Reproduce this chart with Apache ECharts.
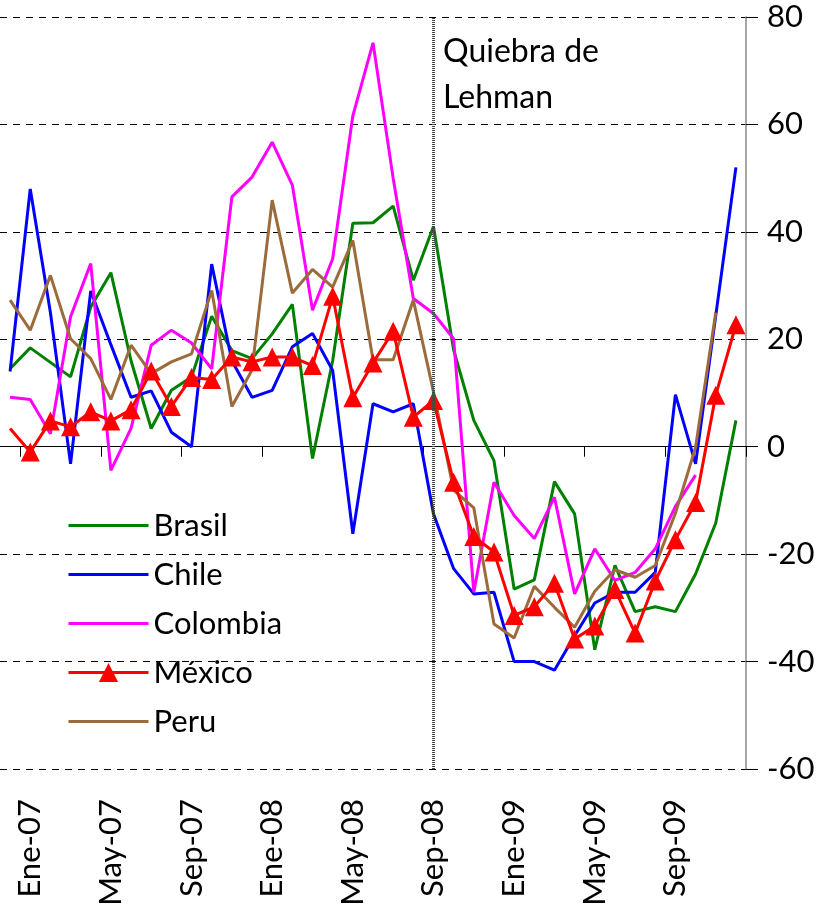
<!DOCTYPE html>
<html>
<head>
<meta charset="utf-8">
<script src="https://cdn.jsdelivr.net/npm/echarts@6/dist/echarts.min.js"></script>
<style>
  html, body { margin: 0; padding: 0; background: #fff; }
  #main { width: 829px; height: 918px; }
</style>
</head>
<body>
<div id="main"></div>
<script>
const months = [
  'Dic-06',
  'Ene-07', 'Feb-07', 'Mar-07', 'Abr-07', 'May-07', 'Jun-07', 'Jul-07', 'Ago-07', 'Sep-07', 'Oct-07', 'Nov-07', 'Dic-07',
  'Ene-08', 'Feb-08', 'Mar-08', 'Abr-08', 'May-08', 'Jun-08', 'Jul-08', 'Ago-08', 'Sep-08', 'Oct-08', 'Nov-08', 'Dic-08',
  'Ene-09', 'Feb-09', 'Mar-09', 'Abr-09', 'May-09', 'Jun-09', 'Jul-09', 'Ago-09', 'Sep-09', 'Oct-09', 'Nov-09', 'Dic-09'
];

const brasil = [14.5, 18.4, 15.7, 13, 26, 32.4, 16, 3.4, 10.5, 13, 24.3, 17.9, 16.4,
  21, 26.5, -2.2, 16, 41.6, 41.7, 44.8, 31, 41, 18, 4.9, -2.6,
  -26.5, -24.8, -6.5, -12.5, -37.8, -22.1, -30.7, -29.8, -30.7, -23.7, -14.2, 4.9];

const chile = [14, 48, 25, -3.2, 29, 19, 9.2, 10.4, 2.7, 0, 34, 16, 9.2,
  10.5, 18.6, 21.1, 14.2, -16.2, 8, 6.5, 8, -12.5, -22.7, -27.4, -27.1,
  -40, -40, -41.6, -35.2, -29.1, -27.1, -27.1, -23.4, 9.7, -3.2, 24.4, 52];

const colombia = [9.2, 8.8, 2.4, 24.2, 34.1, -4.4, 3.4, 18.9, 21.7, 19.3, 14.5, 46.5, 50.2,
  56.7, 48.7, 25.4, 35, 61.6, 75.2, 50, 27.6, 24.8, 20.1, -27.1, -6.6,
  -12.8, -17.1, -9.4, -27.4, -19, -24.9, -23.4, -19, -11.1, -5.3, null, null];

const mexico = [3.4, -1, 4.8, 3.7, 6.5, 4.8, 6.9, 14.1, 7.5, 12.9, 12.5, 16.7, 15.8,
  16.7, 16.7, 15.1, 28, 9.1, 15.6, 21.5, 5.5, 8.6, -6.6, -16.7, -19.6,
  -31.4, -29.8, -25.4, -35.8, -33.4, -26.6, -34.7, -25, -17.3, -10.4, 9.6, 22.7];

const peru = [27.3, 21.7, 31.9, 20.1, 16.4, 8.8, 18.9, 13.6, 15.8, 17.3, 29.1, 7.5, 14.3,
  45.9, 28.6, 33, 29.7, 38.4, 16.2, 16.2, 27.3, 10.2, -8.1, -11.4, -33,
  -35.6, -26, -29.9, -33.6, -26.9, -22.9, -24.3, -22.1, -12.4, -0.1, 25, null];

const legendNames = ['Brasil', 'Chile', 'Colombia', 'México', 'Peru'];
const lehmanMonth = 'Sep-08';

const FONT = 'Lato, "Noto Sans", sans-serif';
const chart = echarts.init(document.getElementById('main'));

const every4 = (index) => index % 4 === 1;

function lineSeries(name, data, color) {
  return {
    name: name,
    type: 'line',
    data: data,
    symbol: 'none',
    lineStyle: { color: color, width: 3 },
    itemStyle: { color: color },
    connectNulls: false
  };
}

// line-only series: hide the circle ECharts puts on the legend line
const legendData = legendNames.map((n) =>
  n === 'México' ? { name: n } : { name: n, itemStyle: { opacity: 0 } }
);

chart.setOption({
  animation: false,
  backgroundColor: '#fff',
  grid: { left: -3.6, right: 83, top: 17, bottom: 149 },
  legend: {
    data: legendData,
    orient: 'vertical',
    left: 62,
    top: 505,
    itemWidth: 80,
    itemHeight: 24,
    itemGap: 18,
    lineStyle: { width: 3 },
    textStyle: { fontFamily: FONT, fontSize: 31, color: '#000' }
  },
  xAxis: [
    {
      type: 'category',
      data: months,
      boundaryGap: true,
      position: 'bottom',
      axisLine: { show: false, onZero: false },
      axisTick: { show: false },
      axisLabel: {
        interval: every4,
        rotate: 90,
        margin: 30,
        fontFamily: FONT,
        fontSize: 31,
        color: '#000'
      },
      splitLine: { show: false }
    },
    {
      type: 'category',
      data: months,
      boundaryGap: true,
      position: 'bottom',
      axisLine: { show: true, onZero: true, lineStyle: { color: '#000', width: 1 } },
      axisTick: { show: true, interval: every4, length: 10, lineStyle: { color: '#000' } },
      axisLabel: { show: false },
      splitLine: { show: false }
    }
  ],
  yAxis: {
    type: 'value',
    position: 'right',
    min: -60,
    max: 80,
    interval: 20,
    axisLine: { show: true, lineStyle: { color: '#888', width: 1.5 } },
    axisTick: { show: true, length: 12, lineStyle: { color: '#000' } },
    axisLabel: { margin: 21, fontFamily: FONT, fontSize: 31, color: '#000' },
    splitLine: { show: true, lineStyle: { color: '#000', width: 1, type: [7, 6] } }
  },
  series: [
    lineSeries('Brasil', brasil, '#008000'),
    lineSeries('Chile', chile, '#0000FF'),
    lineSeries('Colombia', colombia, '#FF00FF'),
    lineSeries('Peru', peru, '#9C6B3B'),
    {
      name: 'México',
      type: 'line',
      data: mexico.map((v, i) => (i === 0 ? { value: v, symbol: 'none' } : v)),
      symbol: 'triangle',
      symbolSize: 19,
      showAllSymbol: true,
      lineStyle: { color: '#FF0000', width: 3 },
      itemStyle: { color: '#FF0000' },
      markLine: {
        silent: true,
        symbol: ['none', 'none'],
        label: { show: false },
        lineStyle: { color: '#444', width: 3, type: [1, 1] },
        data: [{ xAxis: lehmanMonth }]
      }
    }
  ],
  graphic: [
    {
      type: 'text',
      left: 443,
      top: 29,
      style: {
        text: 'Quiebra de\nLehman',
        font: '32px ' + FONT,
        lineHeight: 46,
        fill: '#000'
      }
    }
  ]
});
</script>
</body>
</html>
